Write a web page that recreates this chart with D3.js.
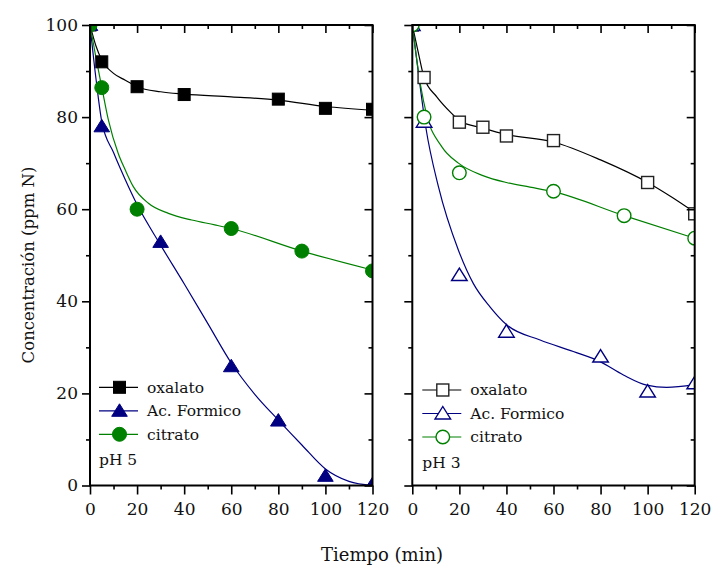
<!DOCTYPE html>
<html lang="es">
<head>
    <meta charset="utf-8">
    <script src="https://d3js.org/d3.v7.min.js"></script>
    <style>
        body { margin: 0; background: #fff; }
        text { font-family: "DejaVu Serif", serif; fill: #111; }
    </style>
</head>
<body>
<script>

// ---- data ----
// pH 5
let t_ox5 = [0, 5, 20, 40, 80, 100, 120];
let ox5 = [100, 92, 86.6, 84.9, 83.9, 81.9, 81.7];
let t_for5 = [0, 5, 30, 60, 80, 100, 120];
let for5 = [100, 78, 52.9, 25.9, 14.1, 2.1, 0.3];
let t_cit5 = [0, 5, 20, 60, 90, 120];
let cit5 = [100, 86.4, 60, 55.8, 50.9, 46.6];
// pH 3
let t_ox3 = [0, 5, 20, 30, 40, 60, 100, 120];
let ox3 = [100, 88.6, 78.9, 77.8, 75.9, 74.9, 65.8, 59];
let t_for3 = [0, 5, 20, 40, 80, 100, 120];
let for3 = [100, 79, 45.7, 33.4, 28, 20.4, 22.2];
let t_cit3 = [0, 5, 20, 60, 90, 120];
let cit3 = [100, 80, 67.9, 63.9, 58.6, 53.7];

// fitted curves as drawn in the figure
let fit_t_ox5 = [0, 2.5, 5, 10, 15, 20, 30, 40, 60, 80, 100, 120];
let fit_ox5 = [100, 95.5, 92.4, 89.5, 88, 86.6, 85.5, 85, 84.4, 83.7, 82.3, 81.5];
let fit_t_for5 = [0, 2.5, 5, 10, 15, 20, 30, 40, 50, 60, 70, 80, 90, 100, 110, 120];
let fit_for5 = [100, 88.5, 79, 72.3, 66.4, 61, 52.2, 43.8, 35.2, 26.6, 19.8, 14.2, 8.8, 3.6, 0.9, 0];
let fit_t_cit5 = [0, 2.5, 5, 7.8, 12, 15, 18.4, 24.8, 33.3, 43.2, 53, 60, 90, 120];
let fit_cit5 = [100, 93, 86.5, 79.4, 72.1, 68.5, 64.9, 61.3, 59.1, 57.65, 56.6, 55.8, 50.9, 46.8];

let fit_t_ox3 = [0, 2.6, 5, 10.4, 16.7, 20, 30, 40, 60, 80, 100, 110, 120];
let fit_ox3 = [100, 93.9, 88.6, 84.4, 80.8, 79.2, 77.6, 76.2, 74.6, 70.7, 65.8, 62.7, 59.3];
let fit_t_for3 = [0, 2.5, 5.7, 11.1, 19.6, 25.9, 33, 40.1, 54.3, 68.4, 79.8, 89.7, 99.6, 108.1, 120];
let fit_for3 = [100, 90, 77.9, 64.9, 51.1, 43.9, 38.8, 34.9, 31.6, 29.1, 26.9, 24, 21.8, 21.3, 21.9];
let fit_t_cit3 = [0, 3.6, 6.1, 12.5, 19.6, 30, 40, 50, 60, 90, 120];
let fit_cit3 = [100, 86.6, 80.5, 73.6, 70, 67.3, 65.8, 64.8, 63.8, 58.6, 53.7];

let seriesNames = ["oxalato", "Ac. Formico", "citrato"];
let xMajor = [0, 20, 40, 60, 80, 100, 120];
let xMinor = [10, 30, 50, 70, 90, 110];
let yMajor = [0, 20, 40, 60, 80, 100];
let yMinor = [10, 30, 50, 70, 90];

// ---- layout ----
let w = 712, h = 565;
let yTop = 25, yBottom = 485.5;
let panels = [
    { left: 90, right: 372.5, label: "pH 5", open: false,
      pts: [[t_ox5, ox5], [t_for5, for5], [t_cit5, cit5]],
      fits: [[fit_t_ox5, fit_ox5], [fit_t_for5, fit_for5], [fit_t_cit5, fit_cit5]] },
    { left: 412.3, right: 694.7, label: "pH 3", open: true,
      pts: [[t_ox3, ox3], [t_for3, for3], [t_cit3, cit3]],
      fits: [[fit_t_ox3, fit_ox3], [fit_t_for3, fit_for3], [fit_t_cit3, fit_cit3]] }
];
let colors = ["#000000", "#000080", "#008000"];
let shapes = ["square", "triangle", "circle"];

let svg = d3.select("body").append("svg")
            .attr("width", w)
            .attr("height", h);

let y = d3.scaleLinear().domain([0, 100]).range([yBottom, yTop]);

function marker(g, shape, cx, cy, color, open) {
    let fill = open ? "#fff" : color;
    let stroke = open ? (shape == "square" ? "#222" : color) : color;
    let sw = open ? 1.4 : 1;
    if (shape == "square") {
        g.append("rect").attr("x", cx - 6).attr("y", cy - 6)
            .attr("width", 12).attr("height", 12)
            .attr("fill", fill).attr("stroke", stroke).attr("stroke-width", sw);
    } else if (shape == "circle") {
        g.append("circle").attr("cx", cx).attr("cy", cy).attr("r", open ? 6.8 : 7)
            .attr("fill", fill).attr("stroke", stroke).attr("stroke-width", sw);
    } else {
        g.append("path")
            .attr("d", "M" + cx + "," + (cy - 7) + "L" + (cx + 7.8) + "," + (cy + 5.5) + "L" + (cx - 7.8) + "," + (cy + 5.5) + "Z")
            .attr("fill", fill).attr("stroke", stroke).attr("stroke-width", sw)
            .attr("stroke-linejoin", "miter");
    }
}

panels.forEach(function(p, pi) {
    let x = d3.scaleLinear().domain([0, 120]).range([p.left, p.right]);

    svg.append("clipPath").attr("id", "clip" + pi)
        .append("rect")
        .attr("x", p.left).attr("y", yTop)
        .attr("width", p.right - p.left).attr("height", yBottom - yTop);

    let plot = svg.append("g").attr("clip-path", "url(#clip" + pi + ")");

    let line = d3.line()
        .x(function(d) { return x(d[0]); })
        .y(function(d) { return y(d[1]); })
        .curve(d3.curveMonotoneX);

    p.fits.forEach(function(f, si) {
        let pts = f[0].map(function(t, i) { return [t, f[1][i]]; });
        plot.append("path")
            .attr("d", line(pts))
            .attr("fill", "none")
            .attr("stroke", colors[si])
            .attr("stroke-width", 1.2);
    });

    p.pts.forEach(function(s, si) {
        s[0].forEach(function(t, i) {
            marker(plot, shapes[si], x(t), y(s[1][i]), colors[si], p.open);
        });
    });

    // axes: left/bottom outward, right/top inward
    let axes = svg.append("g").attr("class", "axes");

    axes.append("g").attr("transform", "translate(" + p.left + ",0)")
        .call(d3.axisLeft(y).tickValues(yMajor).tickSize(8).tickPadding(4)
              .tickFormat(pi == 0 ? d3.format("d") : ""));
    axes.append("g").attr("transform", "translate(" + p.left + ",0)")
        .call(d3.axisLeft(y).tickValues(yMinor).tickSize(4).tickFormat(""));

    axes.append("g").attr("transform", "translate(" + p.right + ",0)")
        .call(d3.axisLeft(y).tickValues(yMajor).tickSize(8).tickFormat(""));
    axes.append("g").attr("transform", "translate(" + p.right + ",0)")
        .call(d3.axisLeft(y).tickValues(yMinor).tickSize(4).tickFormat(""));

    axes.append("g").attr("transform", "translate(0," + yBottom + ")")
        .call(d3.axisBottom(x).tickValues(xMajor).tickSize(9).tickPadding(8)
              .tickFormat(d3.format("d")));
    axes.append("g").attr("transform", "translate(0," + yBottom + ")")
        .call(d3.axisBottom(x).tickValues(xMinor).tickSize(4).tickFormat(""));

    axes.append("g").attr("transform", "translate(0," + yTop + ")")
        .call(d3.axisBottom(x).tickValues(xMajor).tickSize(8).tickFormat(""));
    axes.append("g").attr("transform", "translate(0," + yTop + ")")
        .call(d3.axisBottom(x).tickValues(xMinor).tickSize(4).tickFormat(""));

    axes.selectAll(".domain").remove();
    axes.selectAll("line").attr("stroke", "#000").attr("stroke-width", 1.6);
    axes.selectAll("text").attr("font-family", "DejaVu Serif").attr("font-size", 17).attr("fill", "#111");

    // frame
    svg.append("rect")
        .attr("x", p.left).attr("y", yTop)
        .attr("width", p.right - p.left).attr("height", yBottom - yTop)
        .attr("fill", "none").attr("stroke", "#000").attr("stroke-width", 2);

    // legend
    let lx = p.left + (pi == 0 ? 9 : 10);
    let ly = pi == 0 ? 387.3 : 390;
    let leg = svg.append("g");
    seriesNames.forEach(function(name, si) {
        let yy = ly + si * 23.5;
        leg.append("line")
            .attr("x1", lx).attr("x2", lx + 39)
            .attr("y1", yy).attr("y2", yy)
            .attr("stroke", colors[si]).attr("stroke-width", 1.2);
        marker(leg, shapes[si], lx + 20.5, yy, colors[si], p.open);
        leg.append("text")
            .attr("x", lx + 48).attr("y", yy)
            .attr("dy", "0.35em")
            .attr("font-size", 15.5)
            .text(name);
    });
    leg.append("text")
        .attr("x", lx).attr("y", ly + 3 * 23.5 + 2)
        .attr("dy", "0.35em")
        .attr("font-size", 15.5)
        .text(p.label);
});

// axis titles
svg.append("text")
    .attr("x", 382).attr("y", 561)
    .attr("text-anchor", "middle")
    .attr("font-size", 18)
    .text("Tiempo (min)");

svg.append("text")
    .attr("transform", "translate(34,265) rotate(-90)")
    .attr("text-anchor", "middle")
    .attr("font-size", 16.5)
    .text("Concentración (ppm N)");

</script>
</body>
</html>
